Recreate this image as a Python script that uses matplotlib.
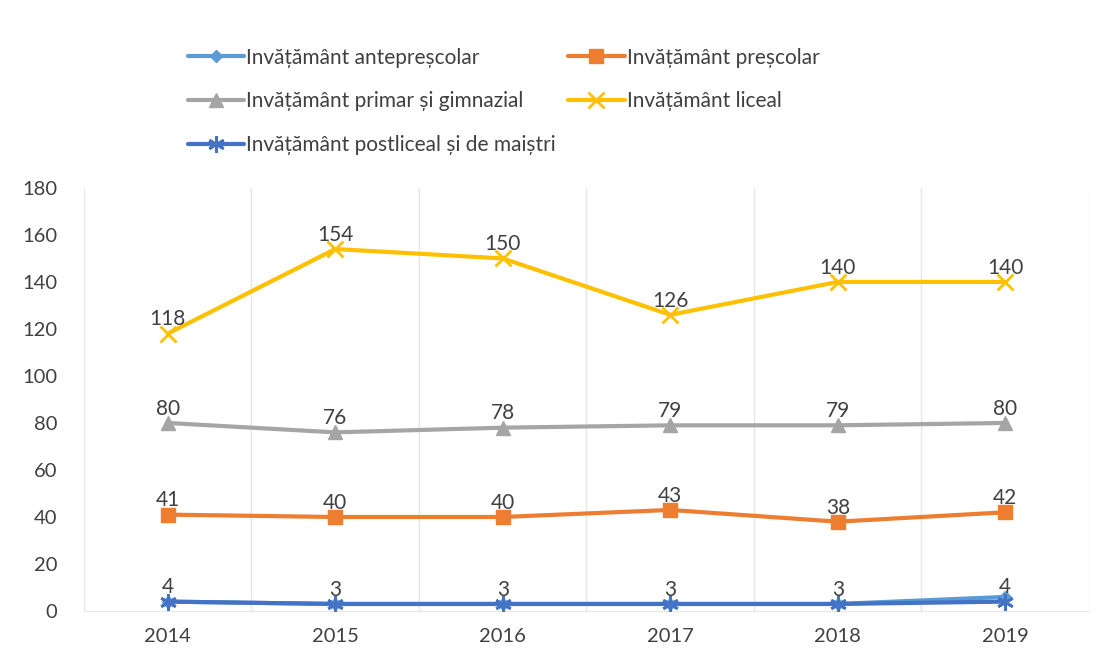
import matplotlib
matplotlib.use("Agg")
import matplotlib.pyplot as plt
import numpy as np

plt.rcParams["font.family"] = ["Lato", "DejaVu Sans"]

years = ["2014", "2015", "2016", "2017", "2018", "2019"]
anteprescolar = [4, 3, 3, 3, 3, 6]
prescolar = [41, 40, 40, 43, 38, 42]
primar_gimnazial = [80, 76, 78, 79, 79, 80]
liceal = [118, 154, 150, 126, 140, 140]
postliceal = [4, 3, 3, 3, 3, 4]
y_ticks = [0, 20, 40, 60, 80, 100, 120, 140, 160, 180]

series = [
    ("Invățământ antepreșcolar", anteprescolar, "#5B9BD5", "D", 6, False),
    ("Invățământ preșcolar", prescolar, "#ED7D31", "s", 10, True),
    ("Invățământ primar și gimnazial", primar_gimnazial, "#A5A5A5", "^", 10, True),
    ("Invățământ liceal", liceal, "#FFC000", "x", 11, True),
    ("Invățământ postliceal și de maiștri", postliceal, "#4472C4", (6, 2, 0), 12, True),
]

fig = plt.figure(figsize=(11.05, 6.57), dpi=100)
ax = fig.add_axes([0.076, 0.070, 0.9095, 0.644])

x = np.arange(len(years))
handles = {}
for name, vals, color, marker, ms, show in series:
    (ln,) = ax.plot(x, vals, color=color, lw=3, marker=marker, markersize=ms,
                    markeredgewidth=2 if marker == "x" or isinstance(marker, tuple) else 1,
                    markeredgecolor=color, label=name, zorder=3, solid_capstyle="round")
    handles[name] = ln
    if show:
        for xi, v in zip(x, vals):
            ax.annotate(str(v), (xi, v), xytext=(0, 3), textcoords="offset points",
                        ha="center", va="bottom", fontsize=15, color="#404040")

ax.set_xlim(-0.5, len(years) - 0.5)
ax.set_ylim(0, 180)
ax.set_yticks(y_ticks)
ax.set_xticks(x)
ax.set_xticklabels(years)
ax.set_xticks(np.arange(-0.5, len(years)), minor=True)
ax.grid(True, which="minor", axis="x", color="#E6E6E6", lw=1)
ax.tick_params(axis="both", which="both", length=0, labelsize=14.5, labelcolor="#404040")
ax.tick_params(axis="x", pad=12)
ax.tick_params(axis="y", pad=19)
for s in ["top", "right", "left"]:
    ax.spines[s].set_visible(False)
ax.spines["bottom"].set_color("#E6E6E6")

order = ["Invățământ antepreșcolar", "Invățământ primar și gimnazial",
         "Invățământ postliceal și de maiștri", "Invățământ preșcolar", "Invățământ liceal"]
fig.legend([handles[n] for n in order], order, loc="upper left",
           bbox_to_anchor=(0.153, 0.956), ncol=2, frameon=False, fontsize=15,
           handlelength=2.7, handletextpad=0.1, labelspacing=1.14,
           columnspacing=0.6, labelcolor="#404040")

fig.savefig("out.png", dpi=100)
